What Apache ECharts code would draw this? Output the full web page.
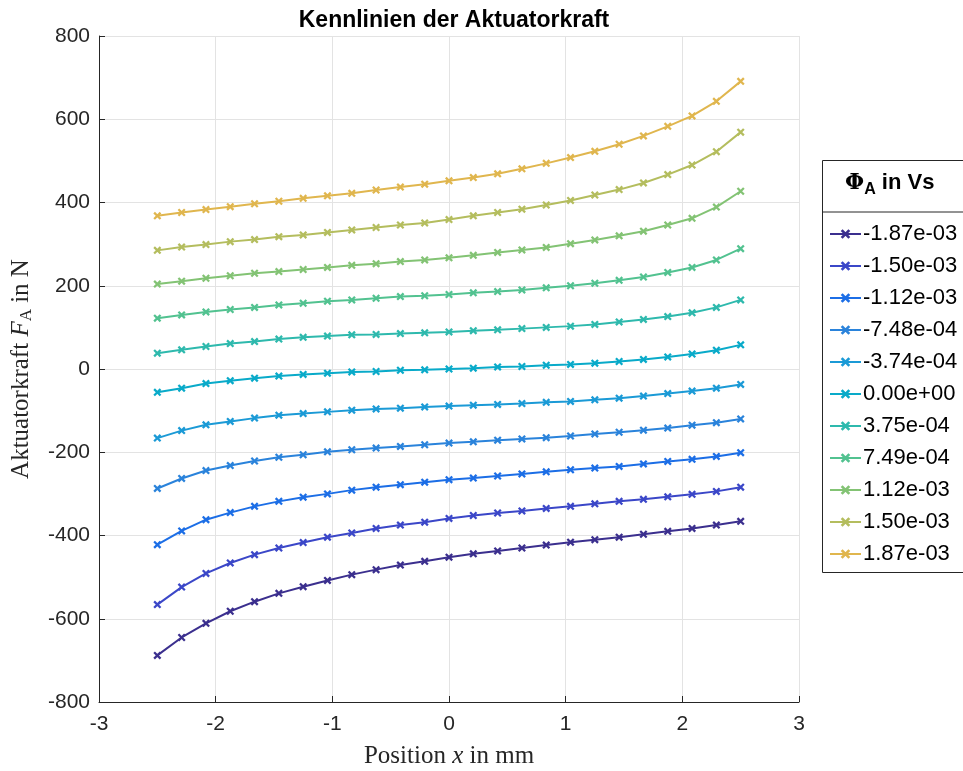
<!DOCTYPE html>
<html>
<head>
<meta charset="utf-8">
<script src="https://cdn.jsdelivr.net/npm/echarts@6/dist/echarts.min.js"></script>
<style>
  html, body { margin: 0; padding: 0; background: #fff; }
  #chart { width: 963px; height: 771px; }
</style>
</head>
<body>
<div id="chart"></div>
<script>
// Position x in mm (25 Stützstellen)
var positions = [-2.5, -2.2917, -2.0833, -1.875, -1.6667, -1.4583, -1.25, -1.0417, -0.8333, -0.625, -0.4167, -0.2083,
  0, 0.2083, 0.4167, 0.625, 0.8333, 1.0417, 1.25, 1.4583, 1.6667, 1.875, 2.0833, 2.2917, 2.5];

// Flusswerte (Legende)
var fluxLabels = ['-1.87e-03', '-1.50e-03', '-1.12e-03', '-7.48e-04', '-3.74e-04', '0.00e+00',
  '3.75e-04', '7.49e-04', '1.12e-03', '1.50e-03', '1.87e-03'];

var lineColors = ['#3b2f8e', '#3b47c8', '#1c6ee6', '#2a83db', '#1b9ad6', '#09aac9',
  '#2eb9ad', '#52c290', '#83c374', '#b4bd5e', '#e0b64e'];

// Aktuatorkraft in N, je Fluss
var forceM187 = [-688, -645, -611, -582, -559, -539, -523, -508, -494, -482, -471, -462, -452,
  -444, -437, -430, -423, -416, -410, -404, -397, -390, -383, -375, -366];
var forceM150 = [-566, -524, -491, -466, -446, -430, -417, -404, -394, -383, -375, -368, -359,
  -352, -346, -341, -335, -330, -324, -318, -313, -307, -301, -294, -284];
var forceM112 = [-422, -389, -362, -345, -330, -318, -308, -300, -291, -284, -278, -272, -266,
  -262, -257, -252, -247, -242, -238, -234, -228, -222, -217, -210, -201];
var forceM748 = [-287, -263, -244, -232, -221, -212, -206, -199, -194, -190, -186, -182, -178,
  -175, -171, -168, -165, -161, -156, -152, -147, -142, -135, -129, -120];
var forceM374 = [-166, -148, -134, -126, -118, -111, -107, -103, -99, -96, -94, -91, -89,
  -87, -85, -83, -80, -78, -74, -70, -65, -59, -53, -46, -37];
var forceZero = [-56, -46, -35, -28, -22, -17, -13, -10, -7, -6, -3, -2, 0,
  2, 5, 6, 9, 11, 14, 18, 23, 29, 36, 45, 58];
var forceP375 = [38, 46, 54, 61, 66, 72, 76, 79, 82, 83, 85, 87, 89,
  92, 94, 97, 100, 103, 107, 113, 119, 126, 135, 148, 166];
var forceP749 = [122, 130, 137, 143, 148, 154, 158, 163, 166, 170, 174, 176, 179,
  183, 186, 190, 195, 200, 206, 213, 221, 232, 244, 262, 289];
var forceP112 = [204, 211, 218, 224, 230, 234, 239, 244, 249, 253, 258, 262, 267,
  273, 280, 286, 292, 301, 310, 320, 331, 346, 362, 389, 427];
var forceP150 = [285, 293, 299, 306, 311, 318, 322, 328, 334, 340, 346, 351, 359,
  368, 376, 384, 394, 405, 418, 431, 447, 467, 490, 522, 569];
var forceP187 = [368, 376, 383, 390, 397, 403, 410, 416, 422, 430, 437, 444, 452,
  460, 469, 481, 494, 508, 523, 540, 560, 583, 608, 643, 691];

var forces = [forceM187, forceM150, forceM112, forceM748, forceM374, forceZero,
  forceP375, forceP749, forceP112, forceP150, forceP187];

var xTicks = [-3, -2, -1, 0, 1, 2, 3];
var yTicks = [-800, -600, -400, -200, 0, 200, 400, 600, 800];

// Kreuz-Marker wie in MATLAB ('x')
var crossPath = 'path://M0,2 L2,0 L10,8 L8,10 Z M8,0 L10,2 L2,10 L0,8 Z';

var chart = echarts.init(document.getElementById('chart'), null, { renderer: 'canvas' });

var series = forces.map(function (f, i) {
  return {
    name: fluxLabels[i],
    type: 'line',
    data: positions.map(function (x, j) { return [x, f[j]]; }),
    symbol: crossPath,
    symbolSize: 8,
    showSymbol: true,
    lineStyle: { width: 2, color: lineColors[i] },
    itemStyle: { color: lineColors[i], borderWidth: 0 },
    color: lineColors[i],
    animation: false,
    emphasis: { disabled: true }
  };
});

var tickFont = { fontFamily: 'Liberation Sans, Arial, sans-serif', fontSize: 21, color: '#262626' };

var option = {
  backgroundColor: '#fff',
  animation: false,
  title: {
    text: 'Kennlinien der Aktuatorkraft',
    left: 449, top: 4, textAlign: 'center',
    textStyle: { fontFamily: 'Liberation Sans, Arial, sans-serif', fontSize: 23, fontWeight: 'bold', color: '#000' }
  },
  grid: { left: 99, right: 164, top: 36, bottom: 69, containLabel: false, outerBoundsMode: 'none' },
  xAxis: {
    type: 'value', min: -3, max: 3, interval: 1,
    axisLine: { show: true, onZero: false, lineStyle: { color: '#262626', width: 1 } },
    axisTick: { show: true, inside: true, length: 6, lineStyle: { color: '#262626' } },
    axisLabel: Object.assign({ margin: 12, formatter: function (v) { return xTicks.indexOf(v) >= 0 ? String(v) : ''; } }, tickFont),
    splitLine: { show: true, lineStyle: { color: '#e3e3e3', width: 1 } },
    name: '{a|Position }{i|x}{a| in mm}',
    nameLocation: 'middle', nameGap: 42,
    nameTextStyle: {
      rich: {
        a: { fontFamily: 'Liberation Serif, Times New Roman, serif', fontSize: 25, color: '#262626' },
        i: { fontFamily: 'Liberation Serif, Times New Roman, serif', fontSize: 25, fontStyle: 'italic', color: '#262626' }
      }
    }
  },
  yAxis: {
    type: 'value', min: -800, max: 800, interval: 200,
    axisLine: { show: true, onZero: false, lineStyle: { color: '#262626', width: 1 } },
    axisTick: { show: true, inside: true, length: 6, lineStyle: { color: '#262626' } },
    axisLabel: Object.assign({ margin: 9, formatter: function (v) { return yTicks.indexOf(v) >= 0 ? String(v) : ''; } }, tickFont),
    splitLine: { show: true, lineStyle: { color: '#e3e3e3', width: 1 } },
    name: '{a|Aktuatorkraft }{i|F}{s|A}{a| in N}',
    nameLocation: 'middle', nameGap: 64, nameRotate: 90,
    nameTextStyle: {
      rich: {
        a: { fontFamily: 'Liberation Serif, Times New Roman, serif', fontSize: 25, color: '#262626' },
        i: { fontFamily: 'Liberation Serif, Times New Roman, serif', fontSize: 25, fontStyle: 'italic', color: '#262626' },
        s: { fontFamily: 'Liberation Serif, Times New Roman, serif', fontSize: 17, color: '#262626', padding: [10, 0, 0, 0] }
      }
    }
  },
  legend: {
    orient: 'vertical',
    left: 824, top: 218,
    itemWidth: 31, itemHeight: 12,
    itemGap: 10,
    data: fluxLabels,
    textStyle: { fontFamily: 'Liberation Sans, Arial, sans-serif', fontSize: 22, color: '#000', padding: [0, 0, 0, -3], lineHeight: 22 },
    selectedMode: false
  },
  graphic: [
    {
      type: 'rect', left: 822, top: 160, z: -1,
      shape: { width: 150, height: 412 },
      style: { fill: '#fff', stroke: '#262626', lineWidth: 1 }
    },
    {
      type: 'line',
      shape: { x1: 822, y1: 212, x2: 963, y2: 212 },
      style: { stroke: '#262626', lineWidth: 1 }
    },
    {
      type: 'text', left: 845, top: 172,
      style: {
        text: '{p|Φ}{s|A}{b| in Vs}',
        rich: {
          p: { fontFamily: 'DejaVu Serif, serif', fontSize: 22, fontWeight: 'bold', fill: '#000' },
          s: { fontFamily: 'Liberation Sans, Arial, sans-serif', fontSize: 16, fontWeight: 'bold', fill: '#000', padding: [14, 0, 0, 0] },
          b: { fontFamily: 'Liberation Sans, Arial, sans-serif', fontSize: 22, fontWeight: 'bold', fill: '#000' }
        }
      }
    }
  ],
  series: series
};

chart.setOption(option);
</script>
</body>
</html>
